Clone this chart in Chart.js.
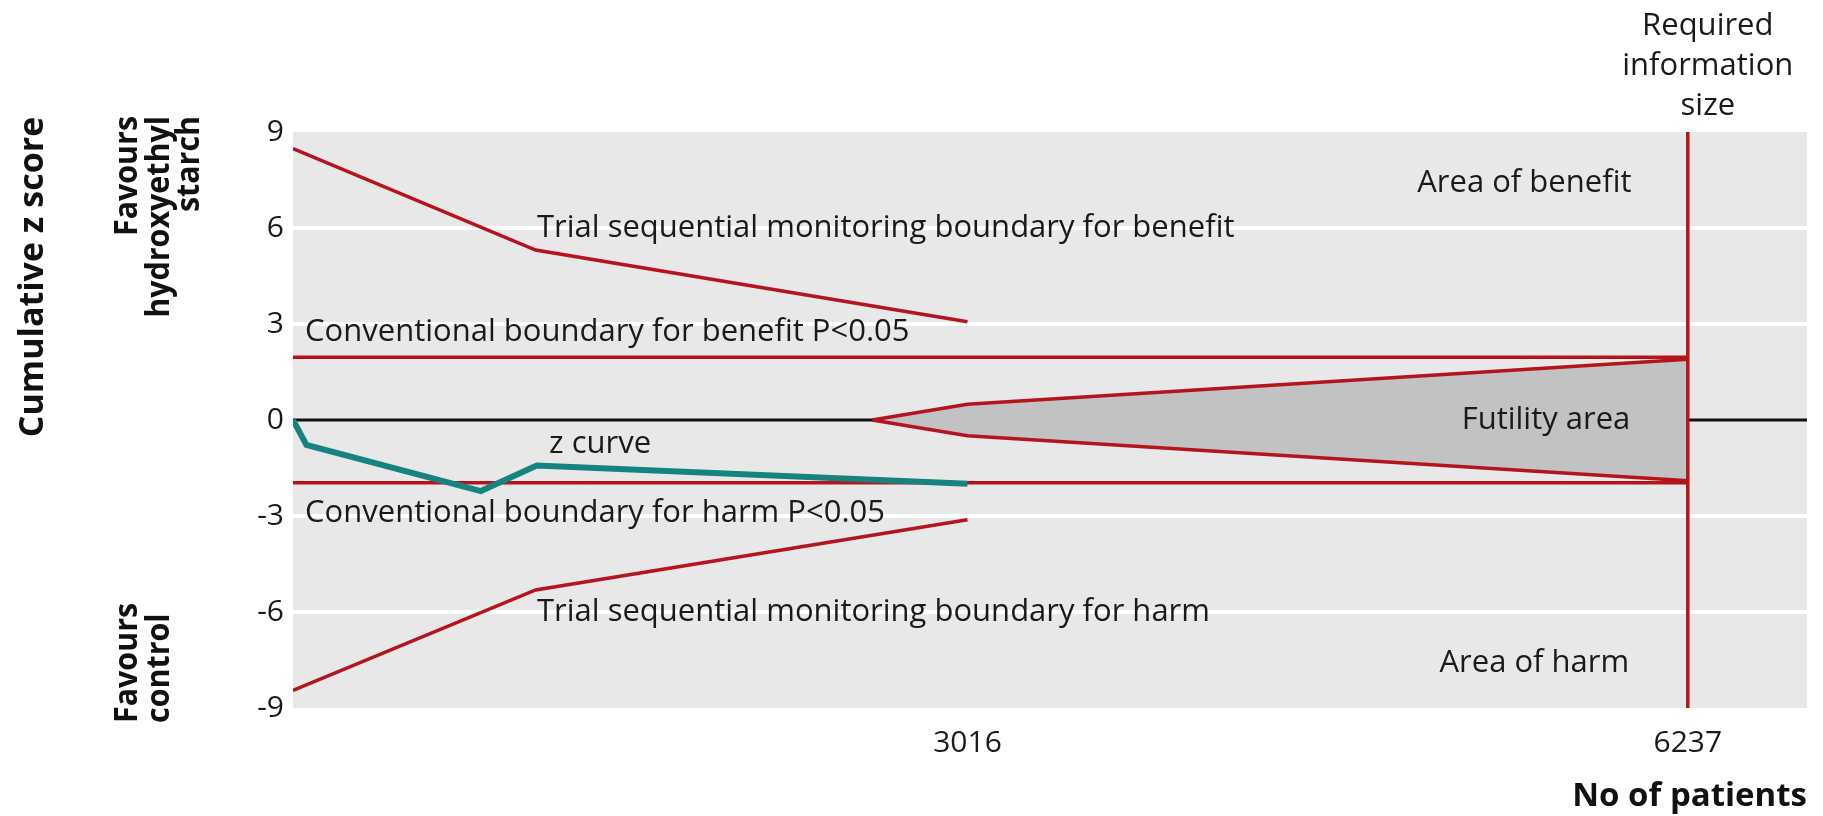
<!DOCTYPE html>
<html>
<head>
<meta charset="utf-8">
<script src="https://cdn.jsdelivr.net/npm/chart.js@4/dist/chart.umd.min.js"></script>
<style>
  html, body { margin: 0; padding: 0; background: #fff; }
  #wrap { width: 1823px; height: 816px; position: relative; }
</style>
</head>
<body>
<div id="wrap"><canvas id="tsa"></canvas></div>
<script>
// values (x = no of patients, y = cumulative z score)
const zCurveX = [0, 60, 840, 1090, 3016];
const zCurveY = [0, -0.78, -2.22, -1.42, -1.99];
const benefitX = [0, 1085, 3016];
const benefitY = [8.48, 5.31, 3.07];
const harmX = [0, 1085, 3016];
const harmY = [-8.45, -5.31, -3.12];
const conventionalX = [0, 6237];
const conventionalZ = 1.96;
const futilityX = [2590, 3016, 6237];
const futilityUpper = [0, 0.49, 1.9];
const futilityLower = [0, -0.49, -1.9];
const requiredSize = 6237;
const xTicks = [3016, 6237];
const yTicks = [-9, -6, -3, 0, 3, 6, 9];
const xMax = 6770;

const RED = '#b5141c';
const TEAL = '#17837e';
const INK = '#1a1a1a';
const FONT = '"Open Sans", "DejaVu Sans", sans-serif';

const pts = (xs, ys) => xs.map((x, i) => ({x: x, y: ys[i]}));

// annotation texts, anchored in data units
const notes = [
  {text: 'Trial sequential monitoring boundary for benefit', x: 1091, y: 6, align: 'left'},
  {text: 'Area of benefit', x: 5985, y: 7.4, align: 'right'},
  {text: 'Conventional boundary for benefit P<0.05', x: 54, y: 2.75, align: 'left'},
  {text: 'Futility area', x: 5980, y: 0, align: 'right'},
  {text: 'z curve', x: 1145, y: -0.75, align: 'left'},
  {text: 'Conventional boundary for harm P<0.05', x: 54, y: -2.92, align: 'left'},
  {text: 'Trial sequential monitoring boundary for harm', x: 1091, y: -6, align: 'left'},
  {text: 'Area of harm', x: 5975, y: -7.6, align: 'right'}
];

function drawLabel(ctx, text, x, y, o) {
  ctx.save();
  ctx.font = (o.bold ? 'bold ' : '') + o.size + 'px ' + FONT;
  ctx.fillStyle = o.color || INK;
  ctx.textBaseline = 'middle';
  ctx.textAlign = o.align || 'left';
  ctx.translate(x, y);
  if (o.rotate) ctx.rotate(o.rotate);
  ctx.scale(o.sx || 1, 1);
  ctx.fillText(text, 0, 0);
  ctx.restore();
}

const decor = {
  id: 'decor',
  beforeDraw(chart) {
    const {ctx, chartArea: a} = chart;
    ctx.save();
    ctx.fillStyle = '#e8e8e8';
    ctx.fillRect(a.left, a.top, a.right - a.left, a.bottom - a.top);
    ctx.restore();
  },
  afterDraw(chart) {
    const {ctx, scales: {x, y}} = chart;
    notes.forEach(n => {
      drawLabel(ctx, n.text, x.getPixelForValue(n.x), y.getPixelForValue(n.y),
        {size: 31, align: n.align});
    });
    const cx = x.getPixelForValue(requiredSize) + 20;
    ['Required', 'information', 'size'].forEach((t, i) => {
      drawLabel(ctx, t, cx, 26 + i * 40, {size: 31, align: 'center'});
    });
    const up = -Math.PI / 2;
    const bold = {size: 32, bold: true, sx: 0.95, rotate: up, color: '#111'};
    drawLabel(ctx, 'Cumulative z score', 33, 277, {size: 34, bold: true, rotate: up, color: '#111', align: 'center'});
    drawLabel(ctx, 'Favours', 128, 116, Object.assign({align: 'right'}, bold));
    drawLabel(ctx, 'hydroxyethyl', 160, 116, Object.assign({align: 'right'}, bold));
    drawLabel(ctx, 'starch', 190, 116, Object.assign({align: 'right'}, bold));
    drawLabel(ctx, 'Favours', 128, 723, Object.assign({align: 'left'}, bold));
    drawLabel(ctx, 'control', 160, 723, Object.assign({align: 'left'}, bold));
  }
};

const line = (data, color, width, order) => ({
  data: data, borderColor: color, borderWidth: width, pointRadius: 0,
  fill: false, tension: 0, order: order
});

new Chart(document.getElementById('tsa'), {
  type: 'line',
  data: {
    datasets: [
      line(pts([0, xMax], [0, 0]), '#111', 3, 10),
      line(pts(futilityX, futilityUpper), RED, 3.5, 5),
      Object.assign(line(pts(futilityX, futilityLower), RED, 3.5, 5), {fill: '-1', backgroundColor: '#c2c2c2'}),
      line(pts(conventionalX, [conventionalZ, conventionalZ]), RED, 3.5, 2),
      line(pts(conventionalX, [-conventionalZ, -conventionalZ]), RED, 3.5, 2),
      line(pts(benefitX, benefitY), RED, 3.5, 2),
      line(pts(harmX, harmY), RED, 3.5, 2),
      line(pts([requiredSize, requiredSize], [-9, 9]), RED, 3.5, 2),
      line(pts(zCurveX, zCurveY), TEAL, 6, 1)
    ]
  },
  options: {
    responsive: true,
    maintainAspectRatio: false,
    animation: false,
    layout: {padding: {top: 132, right: 16, left: 0, bottom: 0}},
    plugins: {legend: {display: false}, tooltip: {enabled: false}},
    scales: {
      x: {
        type: 'linear', min: 0, max: xMax,
        afterBuildTicks: s => { s.ticks = xTicks.map(v => ({value: v})); },
        afterFit: s => { s.height = 108; },
        grid: {display: false},
        border: {display: false},
        ticks: {font: {family: FONT, size: 30}, color: INK, padding: 9, autoSkip: false, maxRotation: 0,
          callback: v => String(v)},
        title: {display: true, text: 'No of patients', align: 'end', color: '#111',
          font: {family: FONT, size: 33, weight: 'bold'}, padding: 0}
      },
      y: {
        type: 'linear', min: -9, max: 9,
        afterBuildTicks: s => { s.ticks = yTicks.map(v => ({value: v})); },
        afterFit: s => { s.width = 293; },
        grid: {
          color: c => (c.tick && [3, 6, -3, -6].includes(c.tick.value)) ? '#ffffff' : 'rgba(0,0,0,0)',
          lineWidth: 4, drawTicks: false
        },
        border: {display: false},
        ticks: {font: {family: FONT, size: 30}, color: INK, padding: 9,
          callback: v => String(v)}
      }
    }
  },
  plugins: [decor]
});
</script>
</body>
</html>
